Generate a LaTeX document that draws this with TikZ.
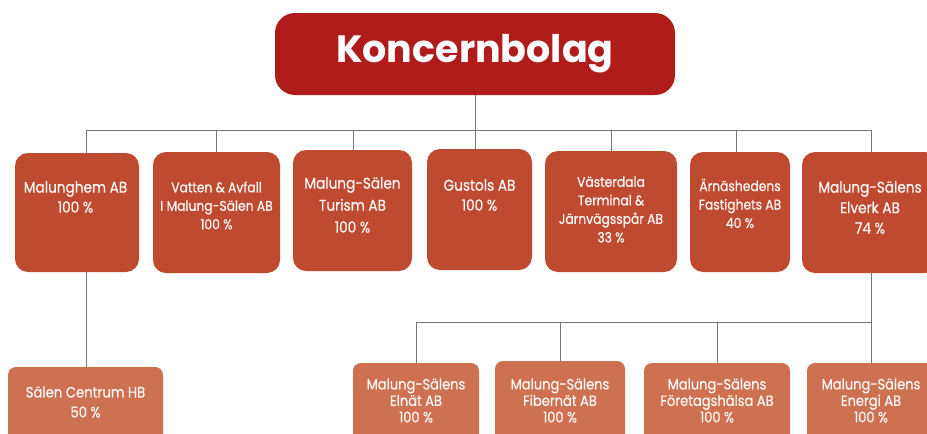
\documentclass[tikz,border=0pt]{standalone}
\usepackage{fontspec}
\setmainfont{Poppins}[FakeBold=0.6]
\newfontfamily\headfont{Poppins}
\definecolor{topred}{HTML}{B01C1C}
\definecolor{rust}{HTML}{BE4A2F}
\definecolor{salmon}{HTML}{CD7150}
\definecolor{linegray}{HTML}{767676}
\begin{document}
\begin{tikzpicture}[x=1pt,y=-1pt,
  conn/.style={draw=linegray, line width=0.9pt},
  topbox/.style={fill=topred, rounded corners=20pt, inner sep=0pt},
  lvla/.style={fill=rust, rounded corners=13pt, inner sep=0pt},
  lvlb/.style={fill=salmon, rounded corners=8pt, inner sep=0pt},
  txt/.style={text=white!96!rust, align=center, inner sep=0pt, xscale=0.88, transform shape},
  fa/.style={font=\fontsize{15.5}{20}\selectfont},
  fb/.style={font=\fontsize{14}{18.5}\selectfont},
  fc/.style={font=\fontsize{14.8}{16.5}\selectfont},
]
\useasboundingbox (0,0) rectangle (927,434);
\clip (0,0) rectangle (927,434);

% top
\node[topbox, minimum width=400pt, minimum height=82pt] (kb) at (475,54) {};
\node[text=white, inner sep=0pt, font=\headfont\fontsize{38}{46}\selectfont\bfseries] (kbt) at (475,54) {Koncernbolag};

% level 1 boxes
\node[lvla, minimum width=124pt, minimum height=119pt] (mh) at (77,212.5) {};
\node[lvla, minimum width=127pt, minimum height=121pt] (va) at (216.5,212.5) {};
\node[lvla, minimum width=119pt, minimum height=121pt] (tu) at (352.5,210.5) {};
\node[lvla, minimum width=105pt, minimum height=121pt] (gu) at (479.5,209.5) {};
\node[lvla, minimum width=132pt, minimum height=121pt] (vd) at (611,211.5) {};
\node[lvla, minimum width=100pt, minimum height=120pt] (ar) at (740,212) {};
\node[lvla, minimum width=136pt, minimum height=121pt] (ev) at (870,212.5) {};

% level 1 texts
\node[txt, fa] (mht) at (75.5,197) {Malunghem AB\\100 \%};
\node[txt, fb] (vat) at (216.5,205.5) {Vatten \& Avfall\\I Malung-Sälen AB\\100 \%};
\node[txt, fa, font=\fontsize{15.5}{22}\selectfont] (tut) at (352.5,205) {Malung-Sälen\\Turism AB\\100 \%};
\node[txt, fa] (gut) at (479.5,195) {Gustols AB\\100 \%};
\node[txt, fb] (vdt) at (611,209.5) {Västerdala\\Terminal \&\\Järnvägsspår AB\\33 \%};
\node[txt, fb] (art) at (740,203.5) {Ärnäshedens\\Fastighets AB\\40 \%};
\node[txt, fa, font=\fontsize{15.5}{20.5}\selectfont] (evt) at (870,207.5) {Malung-Sälens\\Elverk AB\\74 \%};

% level 2 boxes
\node[lvlb, minimum width=155pt, minimum height=90pt] (sc) at (85.5,412) {};
\node[lvlb, minimum width=126pt, minimum height=90pt] (en) at (416,408) {};
\node[lvlb, minimum width=130pt, minimum height=90pt] (fi) at (560,406) {};
\node[lvlb, minimum width=146pt, minimum height=90pt] (fo) at (717,408) {};
\node[lvlb, minimum width=128pt, minimum height=90pt] (eg) at (871,408) {};

% level 2 texts
\node[txt, font=\fontsize{15}{20}\selectfont] (sct) at (85.5,402) {Sälen Centrum HB\\50 \%};
\node[txt, fc] (ent) at (416,400.5) {Malung-Sälens\\Elnät AB\\100 \%};
\node[txt, fc] (fit) at (560,400.5) {Malung-Sälens\\Fibernät AB\\100 \%};
\node[txt, fc] (fot) at (717,400.5) {Malung-Sälens\\Företagshälsa AB\\100 \%};
\node[txt, fc] (egt) at (871,400.5) {Malung-Sälens\\Energi AB\\100 \%};

% bus coordinates
\coordinate (bus) at (475,130);
\coordinate (bmh) at (86,130);
\coordinate (bva) at (216,130);
\coordinate (btu) at (353,130);
\coordinate (bgu) at (475,130);
\coordinate (bvd) at (611,130);
\coordinate (bar) at (736,130);
\coordinate (bev) at (871,130);
\coordinate (sub) at (871,322);
\coordinate (sen) at (416,322);
\coordinate (sfi) at (560,322);
\coordinate (sfo) at (717,322);

% connectors
\draw[conn] (kb.south) -- (bus);
\draw[conn] (bmh) -- (bev);
\draw[conn] (bmh) -- (bmh |- mh.north);
\draw[conn] (bva) -- (bva |- va.north);
\draw[conn] (btu) -- (btu |- tu.north);
\draw[conn] (bgu) -- (bgu |- gu.north);
\draw[conn] (bvd) -- (bvd |- vd.north);
\draw[conn] (bar) -- (bar |- ar.north);
\draw[conn] (bev) -- (bev |- ev.north);

\draw[conn] (bmh |- mh.south) -- (bmh |- sc.north);
\draw[conn] (sub |- ev.south) -- (sub);
\draw[conn] (sen) -- (sub);
\draw[conn] (sen) -- (sen |- en.north);
\draw[conn] (sfi) -- (sfi |- fi.north);
\draw[conn] (sfo) -- (sfo |- fo.north);
\draw[conn] (sub) -- (sub |- eg.north);
\end{tikzpicture}
\end{document}
